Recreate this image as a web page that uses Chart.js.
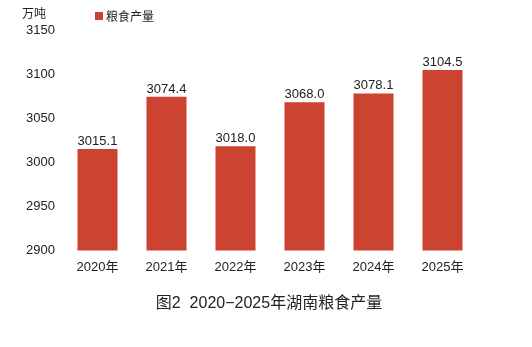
<!DOCTYPE html>
<html>
<head>
<meta charset="utf-8">
<script src="https://cdn.jsdelivr.net/npm/chart.js@4/dist/chart.umd.min.js"></script>
<style>
  body { margin: 0; background: #fff; }
  #wrap { position: relative; width: 532px; height: 347px; font-family: "Liberation Sans", "Noto Sans CJK SC", sans-serif; color: #222; }
  #unit { position: absolute; left: 22px; top: 4px; font-size: 12px; font-family: "Noto Sans CJK SC", sans-serif; }
  #legend { position: absolute; left: 95px; top: 7px; font-size: 12px; display: flex; align-items: center; font-family: "Noto Sans CJK SC", sans-serif; }
  #legend span.box { display: inline-block; width: 8px; height: 8px; background: #cd4331; margin-right: 3px; }
  #title { position: absolute; left: 0; width: 538px; top: 289px; text-align: center; font-size: 16px; }
</style>
</head>
<body>
<div id="wrap">
  <canvas id="grainChart" width="532" height="347"></canvas>
  <div id="unit">万吨</div>
  <div id="legend"><span class="box"></span><span id="legendText"></span></div>
  <div id="title">图2&nbsp; 2020−2025年湖南粮食产量</div>
</div>
<script>
// 湖南粮食产量（万吨）
const years = ['2020年', '2021年', '2022年', '2023年', '2024年', '2025年'];
const output = [3015.1, 3074.4, 3018.0, 3068.0, 3078.1, 3104.5];
const seriesName = '粮食产量';
const yTicks = [2900, 2950, 3000, 3050, 3100, 3150];
const barColor = '#cd4331';

document.getElementById('legendText').textContent = seriesName;

// value labels above bars
const valueLabels = {
    id: 'valueLabels',
    afterDatasetsDraw(chart) {
        const ctx = chart.ctx;
        const meta = chart.getDatasetMeta(0);
        ctx.save();
        ctx.font = '13px "Liberation Sans", Arial, sans-serif';
        ctx.fillStyle = '#222';
        ctx.textAlign = 'center';
        ctx.textBaseline = 'bottom';
        meta.data.forEach((bar, i) => {
            ctx.fillText(output[i].toFixed(1), bar.x, bar.y - 1);
        });
        ctx.restore();
    }
};

function createGrainChart() {
    const ctx = document.getElementById('grainChart').getContext('2d');
    new Chart(ctx, {
        type: 'bar',
        data: {
            labels: years,
            datasets: [{
                label: seriesName,
                data: output,
                backgroundColor: barColor,
                categoryPercentage: 1,
                barPercentage: 0.58
            }]
        },
        options: {
            responsive: false,
            animation: false,
            layout: { padding: { top: 30, right: 55, bottom: 63, left: 0 } },
            plugins: {
                legend: { display: false },
                tooltip: { enabled: false }
            },
            scales: {
                x: {
                    grid: { display: false, drawTicks: false },
                    border: { display: false },
                    ticks: {
                        color: '#222',
                        padding: 9,
                        font: { size: 13, family: '"Liberation Sans", "Noto Sans CJK SC", sans-serif' }
                    }
                },
                y: {
                    min: 2900,
                    max: 3150,
                    grid: { display: false, drawTicks: false },
                    border: { display: false },
                    afterFit(scale) { scale.width = 63; },
                    afterBuildTicks(scale) { scale.ticks = yTicks.map(v => ({ value: v })); },
                    ticks: {
                        color: '#222',
                        padding: 8,
                        callback: v => String(v),
                        font: { size: 13, family: '"Liberation Sans", Arial, sans-serif' }
                    }
                }
            }
        },
        plugins: [valueLabels]
    });
}

createGrainChart();
</script>
</body>
</html>
